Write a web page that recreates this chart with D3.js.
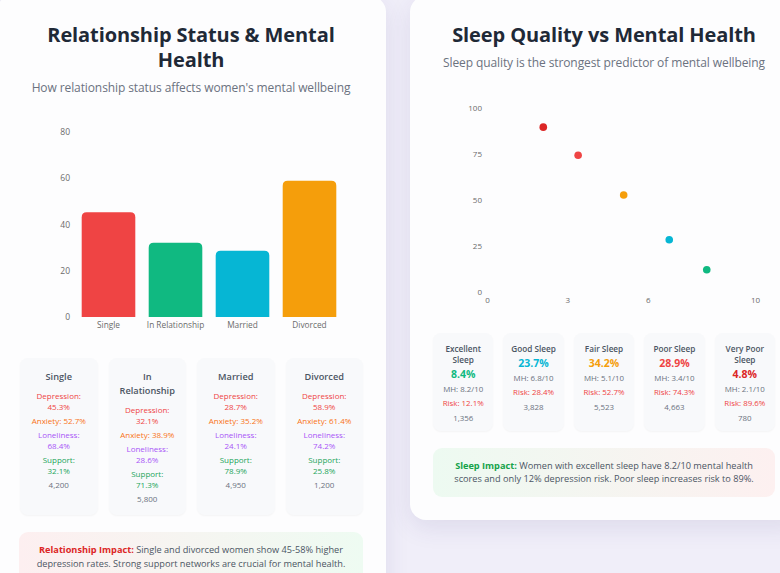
<!DOCTYPE html>
<html lang="en">
<head>
  <meta charset="UTF-8">
  <title>Relationship & Sleep vs Mental Health</title>
  <script src="https://d3js.org/d3.v7.min.js"></script>
  <style>
    body { margin: 0; font-family: "Open Sans", "Noto Sans", sans-serif; background: #f0eef9; }
    #page { position: relative; width: 780px; height: 573px; overflow: hidden; }
    .card { position: absolute; background: #fdfdfe; border-radius: 16px; box-shadow: 0 8px 24px rgba(60, 50, 120, 0.10); }
    .abs { position: absolute; }
    h2 { margin: 0; font-size: 20px; line-height: 25px; letter-spacing: -0.1px; font-weight: 700; color: #1f2937; text-align: center; }
    .sub { margin: 0; font-size: 12px; line-height: 17px; letter-spacing: -0.1px; color: #6b7280; text-align: center; }
    .grid { display: grid; }
    .stat { background: #f8f9fb; border-radius: 8px; text-align: center; box-shadow: 0 1px 2px rgba(0,0,0,0.04); }
    .rel .stat { padding: 12px 8px 11px; }
    .rel .name { font-size: 9.2px; line-height: 14px; font-weight: 600; color: #4b5563; margin-bottom: 6px; }
    .rel .line { font-size: 8px; line-height: 11px; margin-top: 3px; }
    .slp .stat { padding: 9.5px 4px 7px; }
    .slp .name { font-size: 8.2px; line-height: 11px; font-weight: 600; color: #4b5563; }
    .slp .pct { font-size: 10.5px; line-height: 14px; font-weight: 700; margin-top: 2px; }
    .slp .line { font-size: 7.9px; line-height: 12px; margin-top: 2.4px; color: #6b7280; }
    .impact { border-radius: 9px; font-size: 9.2px; line-height: 13.5px; color: #4b5563; text-align: center; box-sizing: border-box; }
    .axis text { font-family: "Open Sans", sans-serif; fill: #6b6b6b; }
    .axis path, .axis line { display: none; }
  </style>
</head>
<body>
<div id="page"></div>
<script>
  // relationship status data
  const statuses = ["Single", "In Relationship", "Married", "Divorced"];
  const depression = [45.3, 32.1, 28.7, 58.9];
  const anxiety = [52.7, 38.9, 35.2, 61.4];
  const loneliness = [68.4, 28.6, 24.1, 74.2];
  const support = [32.1, 71.3, 78.9, 25.8];
  const statusCounts = [4200, 5800, 4950, 1200];
  const statusColors = ["#ef4444", "#10b981", "#06b6d4", "#f59e0b"];
  const barTicks = [0, 20, 40, 60, 80];

  // sleep quality data
  const sleepLevels = ["Excellent Sleep", "Good Sleep", "Fair Sleep", "Poor Sleep", "Very Poor Sleep"];
  const sleepShare = [8.4, 23.7, 34.2, 28.9, 4.8];
  const mhScore = [8.2, 6.8, 5.1, 3.4, 2.1];
  const depRisk = [12.1, 28.4, 52.7, 74.3, 89.6];
  const sleepCounts = [1356, 3828, 5523, 4663, 780];
  const sleepColors = ["#10b981", "#06b6d4", "#f59e0b", "#ef4444", "#dc2626"];
  const scatterXTicks = [0, 3, 6, 10];
  const scatterYTicks = [0, 25, 50, 75, 100];

  const fmt = d3.format(",");
  const page = d3.select("#page");

  // cards
  page.append("div").attr("class", "card").style("left", "-4px").style("top", "-4px")
    .style("width", "390px").style("height", "640px");
  page.append("div").attr("class", "card").style("left", "410px").style("top", "-4px")
    .style("width", "392px").style("height", "524px");

  // titles
  page.append("h2").attr("class", "abs").style("left", "20px").style("top", "22px").style("width", "342px")
    .text("Relationship Status & Mental Health");
  page.append("p").attr("class", "sub abs").style("left", "20px").style("top", "79px").style("width", "342px")
    .text("How relationship status affects women's mental wellbeing");
  page.append("h2").attr("class", "abs").style("left", "434px").style("top", "22px").style("width", "340px")
    .text("Sleep Quality vs Mental Health");
  page.append("p").attr("class", "sub abs").style("left", "434px").style("top", "54px").style("width", "340px")
    .text("Sleep quality is the strongest predictor of mental wellbeing");

  const svg = page.append("svg").attr("class", "abs").style("left", 0).style("top", 0)
    .attr("width", 780).attr("height", 573);

  // bar chart
  const x = d3.scaleBand().domain(statuses).range([75, 343]).paddingInner(0.2).paddingOuter(0.1);
  const y = d3.scaleLinear().domain([0, 80]).range([317, 132]);

  svg.append("g").attr("class", "axis").attr("transform", "translate(75,0)")
    .call(d3.axisLeft(y).tickValues(barTicks).tickSize(0).tickPadding(5))
    .selectAll("text").style("font-size", "8.5px");
  svg.append("g").attr("class", "axis").attr("transform", "translate(0,317)")
    .call(d3.axisBottom(x).tickSize(0).tickPadding(5))
    .selectAll("text").style("font-size", "8.3px");

  const r = 5;
  svg.append("g").selectAll("path").data(statuses).join("path")
    .attr("fill", (d, i) => statusColors[i])
    .attr("d", (d, i) => {
      const x0 = x(d), w = x.bandwidth(), y0 = y(0), y1 = y(depression[i]);
      return `M${x0},${y0}V${y1 + r}Q${x0},${y1} ${x0 + r},${y1}H${x0 + w - r}Q${x0 + w},${y1} ${x0 + w},${y1 + r}V${y0}Z`;
    });

  // scatter chart
  const sx = d3.scaleLinear().domain([0, 10]).range([487, 755]);
  const sy = d3.scaleLinear().domain([0, 100]).range([292, 108]);

  svg.append("g").attr("class", "axis").attr("transform", "translate(487,0)")
    .call(d3.axisLeft(sy).tickValues(scatterYTicks).tickSize(0).tickPadding(5))
    .selectAll("text").style("font-size", "8px");
  svg.append("g").attr("class", "axis").attr("transform", "translate(0,292)")
    .call(d3.axisBottom(sx).tickValues(scatterXTicks).tickSize(0).tickPadding(5))
    .selectAll("text").style("font-size", "8px");

  svg.append("g").selectAll("circle").data(sleepLevels).join("circle")
    .attr("cx", (d, i) => sx(mhScore[i]))
    .attr("cy", (d, i) => sy(depRisk[i]))
    .attr("r", 3.8)
    .attr("fill", (d, i) => sleepColors[i]);

  // relationship stat cards
  const relGrid = page.append("div").attr("class", "grid rel abs")
    .style("left", "20px").style("top", "358px").style("width", "343px")
    .style("grid-template-columns", "repeat(4, 1fr)").style("column-gap", "11px")
    .style("height", "156px");
  const relCard = relGrid.selectAll("div.stat").data(statuses).join("div").attr("class", "stat");
  relCard.append("div").attr("class", "name").text(d => d);
  relCard.append("div").attr("class", "line").style("color", "#ef4444")
    .html((d, i) => `Depression:<br>${depression[i]}%`);
  relCard.append("div").attr("class", "line").style("color", "#f97316")
    .text((d, i) => `Anxiety: ${anxiety[i]}%`);
  relCard.append("div").attr("class", "line").style("color", "#a855f7")
    .html((d, i) => `Loneliness:<br>${loneliness[i]}%`);
  relCard.append("div").attr("class", "line").style("color", "#22a55a")
    .html((d, i) => `Support:<br>${support[i]}%`);
  relCard.append("div").attr("class", "line").style("color", "#6b7280")
    .text((d, i) => fmt(statusCounts[i]));

  // sleep stat cards
  const slpGrid = page.append("div").attr("class", "grid slp abs")
    .style("left", "433px").style("top", "333px").style("width", "342px")
    .style("grid-template-columns", "repeat(5, 1fr)").style("column-gap", "10px")
    .style("height", "97px");
  const slpCard = slpGrid.selectAll("div.stat").data(sleepLevels).join("div").attr("class", "stat");
  slpCard.append("div").attr("class", "name").text(d => d);
  slpCard.append("div").attr("class", "pct").style("color", (d, i) => sleepColors[i])
    .text((d, i) => `${sleepShare[i]}%`);
  slpCard.append("div").attr("class", "line").text((d, i) => `MH: ${mhScore[i]}/10`);
  slpCard.append("div").attr("class", "line").style("color", "#ef4444")
    .text((d, i) => `Risk: ${depRisk[i]}%`);
  slpCard.append("div").attr("class", "line").text((d, i) => fmt(sleepCounts[i]));

  // impact notes
  page.append("div").attr("class", "impact abs")
    .style("left", "19px").style("top", "532px").style("width", "344px").style("height", "60px")
    .style("padding", "11px 12px")
    .style("background", "linear-gradient(90deg, #fdeff0, #eefbf2)")
    .html('<b style="color:#dc2626">Relationship Impact:</b> Single and divorced women show 45-58% higher depression rates. Strong support networks are crucial for mental health.');
  page.append("div").attr("class", "impact abs")
    .style("left", "433px").style("top", "448px").style("width", "342px").style("height", "49px")
    .style("padding", "10.5px 12px")
    .style("background", "linear-gradient(90deg, #edfaf1, #fdf0f0)")
    .html('<b style="color:#16a34a">Sleep Impact:</b> Women with excellent sleep have 8.2/10 mental health scores and only 12% depression risk. Poor sleep increases risk to 89%.');
</script>
</body>
</html>
